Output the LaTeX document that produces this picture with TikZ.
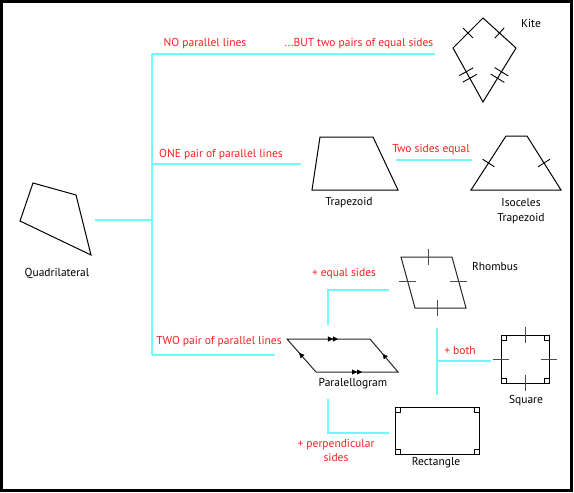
\documentclass[tikz,border=0pt]{standalone}
\usepackage{fontspec}
\setmainfont{PT Sans}
\usetikzlibrary{calc,decorations.markings,arrows.meta}
\definecolor{lcyan}{RGB}{110,250,250}
\definecolor{lred}{RGB}{250,30,30}
\tikzset{ptri/.tip={Triangle[length=5pt,width=5pt]}}
\newcommand{\perptick}[4]{%
  \draw[tickline] ($(#1)!#3!(#2)!#4!90:(#2)$) -- ($(#1)!#3!(#2)!#4!-90:(#2)$);}
\begin{document}
\begin{tikzpicture}[x=1pt,y=-1pt,
  shp/.style={draw=black,line width=1pt,line join=miter},
  link/.style={draw=lcyan,line width=2pt},
  lbl/.style={text=lred,font=\fontsize{11.5}{13}\selectfont,inner sep=0pt},
  nm/.style={text=black,font=\fontsize{11.5}{15}\selectfont,inner sep=0pt,align=center},
  tickline/.style={draw=black,line width=0.9pt},
  grtick/.style={draw=black!70,line width=1pt},
  rbox/.style={draw=black,line width=0.6pt}
]
\useasboundingbox (0,0) rectangle (574,493);
% frame
\draw[line width=3.4pt] (1.7,1.7) rectangle (571.4,490.3);

% ---- Quadrilateral
\coordinate (q1) at (33,183);
\coordinate (q2) at (76,195);
\coordinate (q3) at (91,255);
\coordinate (q4) at (20,221);
\draw[shp] (q1) -- (q2) -- (q3) -- (q4) -- cycle;
\node[nm] (quad) at (57,273) {Quadrilateral};

% ---- Kite
\coordinate (k1) at (483,18);
\coordinate (k2) at (516,48);
\coordinate (k3) at (483,102);
\coordinate (k4) at (453,48);
\draw[shp] (k1) -- (k2) -- (k3) -- (k4) -- cycle;
\perptick{k4}{k1}{0.5}{7pt}
\perptick{k1}{k2}{0.5}{7pt}
\perptick{k4}{k3}{0.44}{8pt}
\perptick{k4}{k3}{0.56}{8pt}
\perptick{k2}{k3}{0.44}{8pt}
\perptick{k2}{k3}{0.56}{8pt}
\node[nm] (kite) at (531,23) {Kite};

% ---- Trapezoid
\coordinate (t1) at (320,137);
\coordinate (t2) at (373,137);
\coordinate (t3) at (398,190);
\coordinate (t4) at (312,190);
\draw[shp] (t1) -- (t2) -- (t3) -- (t4) -- cycle;
\node[nm] (trap) at (349,203) {Trapezoid};

% ---- Isosceles trapezoid
\coordinate (i1) at (506,136);
\coordinate (i2) at (527,136);
\coordinate (i3) at (561,190);
\coordinate (i4) at (471,190);
\draw[shp] (i1) -- (i2) -- (i3) -- (i4) -- cycle;
\perptick{i4}{i1}{0.5}{7pt}
\perptick{i3}{i2}{0.5}{7pt}
\node[nm] (isotrap) at (521,211) {Isoceles\\Trapezoid};

% ---- Rhombus
\coordinate (r1) at (401,257);
\coordinate (r2) at (452,257);
\coordinate (r3) at (466,308);
\coordinate (r4) at (415,308);
\draw[shp,draw=black!85] (r1) -- (r2) -- (r3) -- (r4) -- cycle;
\draw[grtick] (428,249) -- (428,265);
\draw[grtick] (437,300) -- (437,316);
\draw[grtick] (399,281) -- (416,281);
\draw[grtick] (450,281) -- (467,281);
\node[nm] (rhomb) at (495,266) {Rhombus};

% ---- Parallelogram
\coordinate (p1) at (287,339);
\coordinate (p2) at (370,339);
\coordinate (p3) at (398,372);
\coordinate (p4) at (316,372);
\draw[shp,draw=black!85] (p1) -- (p2) -- (p3) -- (p4) -- cycle;
\path[decorate,decoration={markings,
  mark=at position 0.554 with {\arrow{ptri}},
  mark=at position 0.614 with {\arrow{ptri}}}] (p1) -- (p2);
\path[decorate,decoration={markings,
  mark=at position 0.5 with {\arrow{ptri}},
  mark=at position 0.561 with {\arrow{ptri}}}] (p4) -- (p3);
\path[decorate,decoration={markings,
  mark=at position 0.58 with {\arrow{ptri}}}] (p4) -- (p1);
\path[decorate,decoration={markings,
  mark=at position 0.55 with {\arrow{ptri}}}] (p3) -- (p2);
\node[nm] (para) at (353,384) {Paralellogram};

% ---- Square
\coordinate (s1) at (501,335);
\coordinate (s3) at (549,383);
\draw[shp] (s1) rectangle (s3);
\draw[rbox] (501,335) rectangle ++(5,5);
\draw[rbox] (549,335) rectangle ++(-5,5);
\draw[rbox] (501,383) rectangle ++(5,-5);
\draw[rbox] (549,383) rectangle ++(-5,-5);
\draw[grtick] (525,327) -- (525,343);
\draw[grtick] (525,375) -- (525,391);
\draw[grtick] (493,359) -- (509,359);
\draw[grtick] (541,359) -- (557,359);
\node[nm] (square) at (526,401) {Square};

% ---- Rectangle
\coordinate (e1) at (395,407);
\coordinate (e3) at (479,454);
\draw[shp] (e1) rectangle (e3);
\draw[rbox] (395,407) rectangle ++(5,5);
\draw[rbox] (479,407) rectangle ++(-5,5);
\draw[rbox] (395,454) rectangle ++(5,-5);
\draw[rbox] (479,454) rectangle ++(-5,-5);
\node[nm] (rect) at (436,463) {Rectangle};

% ---- connectors
\coordinate (c0a) at (95,220);
\coordinate (c0b) at (151,220);
\coordinate (vtop) at (152,54);
\coordinate (vbot) at (152,355);
\coordinate (etop) at (435,54);
\coordinate (emid) at (301,164);
\coordinate (ebot) at (275,355);
\draw[link] (c0a) -- (c0b);
\draw[link] (vtop) -- (vbot);
\draw[link] (vtop) -- (etop);
\draw[link] (152,164) -- (emid);
\draw[link] (vbot) -- (ebot);
\coordinate (tsA) at (396,160);
\coordinate (tsB) at (472,160);
\draw[link] (tsA) -- (tsB);
\coordinate (eqA) at (328,325);
\coordinate (eqB) at (389,290);
\draw[link] (eqA) |- (eqB);
\coordinate (peA) at (328,399);
\coordinate (peB) at (389,433);
\draw[link] (peA) |- (peB);
\coordinate (boA) at (437,328);
\coordinate (boB) at (437,395);
\coordinate (boC) at (491,361);
\draw[link] (boA) -- (boB);
\draw[link] (437,361) -- (boC);

% ---- red labels
\node[lbl] (lno) at (205,44) {NO parallel lines};
\node[lbl] (lbut) at (359,44) {...BUT two pairs of equal sides};
\node[lbl] (lone) at (221,155) {ONE pair of parallel lines};
\node[lbl] (ltwoeq) at (431,150) {Two sides equal};
\node[lbl] (ltwo) at (219,342) {TWO pair of parallel lines};
\node[lbl] (leq) at (344,274) {+ equal sides};
\node[lbl] (lboth) at (460,351) {+ both};
\node[lbl,align=center,font=\fontsize{11.5}{14}\selectfont] (lperp) at (336,450) {+ perpendicular\\sides};
\end{tikzpicture}
\end{document}
